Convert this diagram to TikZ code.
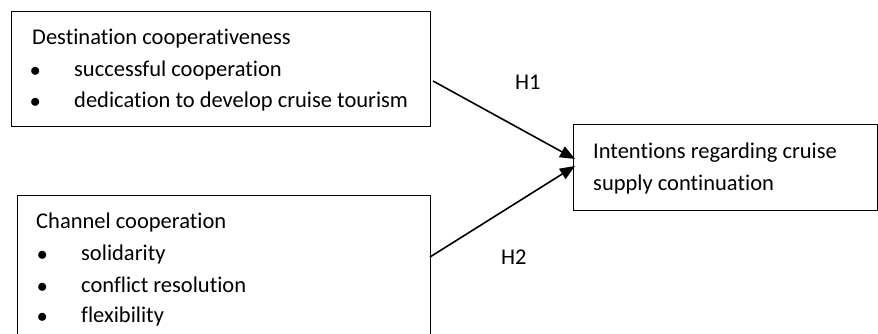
\documentclass[tikz,border=0pt]{standalone}
\usepackage{fontspec}
\setmainfont[Ligatures={NoCommon}]{Carlito}
\usetikzlibrary{arrows.meta}
\begin{document}
\begin{tikzpicture}[x=1pt,y=-1pt,
  box/.style={draw,line width=1.3pt,anchor=north west,inner sep=0pt},
  txt/.style={anchor=base west,inner sep=0pt,font=\fontsize{22.5}{27}\selectfont},
  conn/.style={line width=1.6pt,-{Triangle[length=15pt,width=12pt]}}]
\useasboundingbox (0,0) rectangle (878,334);
\node[box,minimum width=419pt,minimum height=115pt] (b1) at (10.5,11) {};
\node[box,minimum width=413pt,minimum height=150pt] (b2) at (16.5,195) {};
\node[box,minimum width=304pt,minimum height=86pt] (b3) at (573,124) {};
\node[txt] (t1) at (32,45) {Destination cooperativeness};
\node[txt] (t1a) at (30,77) {$\bullet$};
\node[txt] (t1b) at (74,77) {successful cooperation};
\node[txt] (t1c) at (30,108) {$\bullet$};
\node[txt] (t1d) at (74,108) {dedication to develop cruise tourism};
\node[txt] (t2) at (36,228) {Channel cooperation};
\node[txt] (t2a) at (37,260) {$\bullet$};
\node[txt] (t2b) at (81,260) {solidarity};
\node[txt] (t2c) at (37,292) {$\bullet$};
\node[txt] (t2d) at (81,292) {conflict resolution};
\node[txt] (t2e) at (37,322) {$\bullet$};
\node[txt] (t2f) at (81,322) {flexibility};
\node[txt] (t3) at (593,158) {Intentions regarding cruise};
\node[txt] (t3b) at (593,190) {supply continuation};
\node[txt] (h1) at (515,90) {H1};
\node[txt] (h2) at (501,264) {H2};
\coordinate (s1) at (433,81);
\coordinate (e1) at (575,159);
\coordinate (s2) at (430,257);
\coordinate (e2) at (575,166);
\draw[conn] (s1) -- (e1);
\draw[conn] (s2) -- (e2);
\end{tikzpicture}
\end{document}
